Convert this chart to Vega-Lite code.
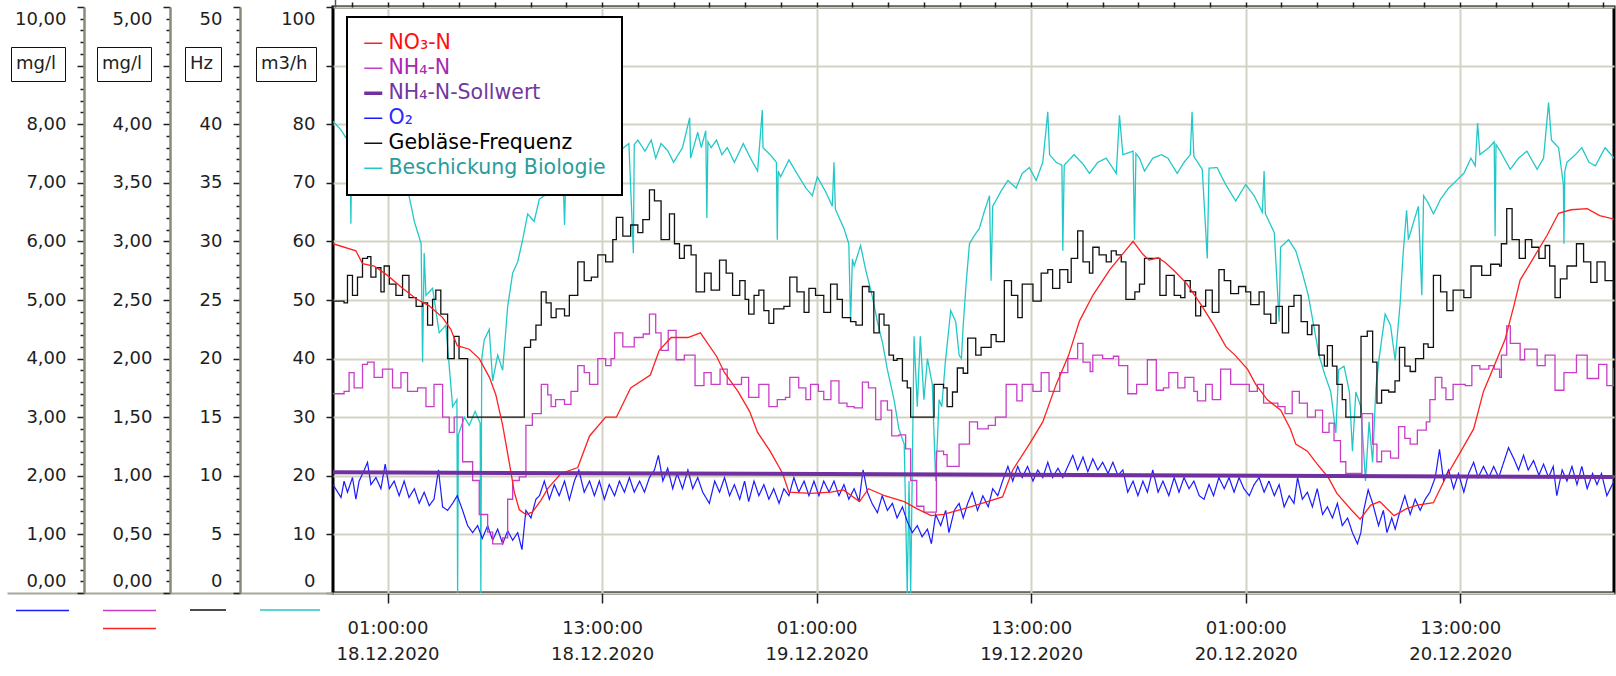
{
"$schema":"https://vega.github.io/schema/vega-lite/v6.json",
"width":1281,"height":586,
"autosize":{"type":"none"},
"padding":{"left":333,"top":7,"right":2,"bottom":83},
"background":"white",
"config":{
 "view":{"stroke":"#000000","strokeWidth":3},
 "font":"DejaVu Sans",
 "axis":{"labelFont":"DejaVu Sans","labelFontSize":18,"labelColor":"#1e1e1e","tickColor":"#1e1e1e","tickWidth":1.5,"domainColor":"#8a8a7a","domainWidth":2.5,"grid":false,"labelOverlap":false},
 "legend":{"labelFont":"DejaVu Sans","labelFontSize":18}
},
"datasets":{
"q":[{"h":-2.05,"y":80.5},{"h":-1.6,"y":79},{"h":-1.33,"y":77.7},{"h":-1.1,"y":77},{"h":-1.05,"y":63},{"h":-1.0,"y":76.5},{"h":-0.5,"y":76},{"h":0.3,"y":75},{"h":1.0,"y":73},{"h":1.6,"y":70.5},{"h":2.2,"y":67.8},{"h":2.5,"y":63.4},{"h":2.88,"y":59.6},{"h":2.96,"y":39.4},{"h":3.05,"y":58},{"h":3.15,"y":50.8},{"h":3.52,"y":52},{"h":3.89,"y":44.4},{"h":4.26,"y":45.7},{"h":4.64,"y":31.8},{"h":4.88,"y":33},{"h":4.92,"y":0},{"h":4.96,"y":27},{"h":5.3,"y":30},{"h":5.57,"y":28.6},{"h":5.9,"y":31},{"h":6.18,"y":29},{"h":6.22,"y":0},{"h":6.27,"y":40},{"h":6.41,"y":43.2},{"h":6.69,"y":45},{"h":6.88,"y":36.2},{"h":7.16,"y":40.6},{"h":7.44,"y":38},{"h":7.72,"y":48.9},{"h":8.0,"y":54.6},{"h":8.28,"y":56.5},{"h":8.56,"y":60.3},{"h":8.84,"y":64.7},{"h":9.2,"y":63.4},{"h":9.49,"y":67.2},{"h":9.77,"y":67.8},{"h":10.3,"y":68.5},{"h":10.85,"y":68},{"h":10.9,"y":62.8},{"h":10.95,"y":68.5},{"h":11.5,"y":70},{"h":12.2,"y":72},{"h":13.0,"y":73.5},{"h":13.8,"y":75},{"h":14.5,"y":76.7},{"h":14.75,"y":58},{"h":14.8,"y":76.5},{"h":15.0,"y":77.3},{"h":15.4,"y":75.4},{"h":15.75,"y":77.3},{"h":16.0,"y":74.2},{"h":16.3,"y":76.7},{"h":16.67,"y":75.5},{"h":17.0,"y":73.5},{"h":17.5,"y":76},{"h":17.9,"y":81.1},{"h":17.95,"y":74.2},{"h":18.35,"y":78.6},{"h":18.55,"y":76},{"h":18.8,"y":78.9},{"h":18.86,"y":64},{"h":18.92,"y":77},{"h":19.1,"y":76},{"h":19.4,"y":77.3},{"h":19.7,"y":74.8},{"h":20.0,"y":76},{"h":20.4,"y":73.5},{"h":20.9,"y":76.7},{"h":21.3,"y":74.2},{"h":21.7,"y":72},{"h":21.96,"y":82.4},{"h":22.0,"y":76},{"h":22.4,"y":74.8},{"h":22.75,"y":73.5},{"h":22.8,"y":60.3},{"h":22.85,"y":72},{"h":22.98,"y":71},{"h":23.45,"y":73.9},{"h":23.9,"y":71.6},{"h":24.4,"y":69.1},{"h":24.76,"y":67.8},{"h":25.04,"y":71},{"h":25.5,"y":68.5},{"h":25.88,"y":66},{"h":25.97,"y":73.5},{"h":26.05,"y":65.5},{"h":26.53,"y":62.2},{"h":26.8,"y":59.6},{"h":26.9,"y":46.3},{"h":27.0,"y":57},{"h":27.1,"y":55.8},{"h":27.46,"y":59.3},{"h":27.74,"y":55.2},{"h":28.1,"y":50.8},{"h":28.4,"y":46.3},{"h":28.7,"y":42.5},{"h":28.96,"y":38.1},{"h":29.33,"y":33},{"h":29.6,"y":28},{"h":29.9,"y":25.4},{"h":30.07,"y":0},{"h":30.17,"y":19.1},{"h":30.26,"y":0},{"h":30.45,"y":43.8},{"h":30.63,"y":31.8},{"h":30.8,"y":43.8},{"h":31.0,"y":33},{"h":31.2,"y":40},{"h":31.47,"y":35.6},{"h":31.66,"y":19.1},{"h":31.85,"y":33},{"h":32.0,"y":31.8},{"h":32.2,"y":39.4},{"h":32.5,"y":48.2},{"h":32.78,"y":46.3},{"h":32.97,"y":40.6},{"h":33.1,"y":40},{"h":33.2,"y":45.7},{"h":33.36,"y":52.7},{"h":33.55,"y":59.6},{"h":33.8,"y":60.9},{"h":34.1,"y":62.2},{"h":34.4,"y":65.3},{"h":34.67,"y":67.8},{"h":34.76,"y":53.3},{"h":34.85,"y":66},{"h":35.3,"y":68.5},{"h":35.7,"y":70.4},{"h":36.16,"y":69.1},{"h":36.5,"y":71.6},{"h":36.9,"y":72.6},{"h":37.28,"y":70.4},{"h":37.65,"y":73.5},{"h":37.93,"y":82.1},{"h":38.03,"y":74.8},{"h":38.4,"y":73.5},{"h":38.72,"y":73},{"h":38.77,"y":58.4},{"h":38.85,"y":73},{"h":39.4,"y":74.8},{"h":39.9,"y":73.2},{"h":40.26,"y":71.6},{"h":40.73,"y":73.5},{"h":41.2,"y":74.2},{"h":41.76,"y":71.6},{"h":41.94,"y":81.5},{"h":42.13,"y":74.8},{"h":42.7,"y":75.4},{"h":42.78,"y":60.3},{"h":42.86,"y":75},{"h":43.06,"y":74.2},{"h":43.34,"y":72},{"h":43.8,"y":74.2},{"h":44.28,"y":74.8},{"h":44.65,"y":74.2},{"h":45.17,"y":71.6},{"h":45.55,"y":73.5},{"h":45.9,"y":74.8},{"h":46.0,"y":82.1},{"h":46.1,"y":74.5},{"h":46.57,"y":72.3},{"h":46.85,"y":57.1},{"h":46.95,"y":72.5},{"h":47.4,"y":72.6},{"h":47.88,"y":69.7},{"h":48.44,"y":66.9},{"h":49.0,"y":69.7},{"h":49.47,"y":67.8},{"h":49.93,"y":65},{"h":50.03,"y":72},{"h":50.1,"y":64.7},{"h":50.6,"y":61.5},{"h":50.87,"y":46.3},{"h":50.95,"y":59},{"h":51.4,"y":60.3},{"h":51.8,"y":58.4},{"h":52.17,"y":54.6},{"h":52.5,"y":50.8},{"h":52.8,"y":45.7},{"h":53.1,"y":40.6},{"h":53.4,"y":37.5},{"h":53.76,"y":34.3},{"h":54.04,"y":27.3},{"h":54.2,"y":38.1},{"h":54.5,"y":38.7},{"h":54.8,"y":34.3},{"h":54.97,"y":24.2},{"h":55.16,"y":34.3},{"h":55.44,"y":31.8},{"h":55.7,"y":19.1},{"h":55.9,"y":29.2},{"h":56.1,"y":22.3},{"h":56.28,"y":34.9},{"h":56.46,"y":40},{"h":56.8,"y":47.6},{"h":57.1,"y":45.7},{"h":57.36,"y":39.7},{"h":57.64,"y":49.5},{"h":57.8,"y":57.7},{"h":58.0,"y":65.3},{"h":58.1,"y":60.3},{"h":58.4,"y":63.4},{"h":58.66,"y":66},{"h":58.85,"y":50.8},{"h":58.95,"y":67.8},{"h":59.2,"y":66.6},{"h":59.5,"y":64.7},{"h":59.9,"y":67.2},{"h":60.35,"y":69.1},{"h":60.8,"y":70.4},{"h":61.2,"y":71.6},{"h":61.6,"y":74.2},{"h":61.84,"y":72.9},{"h":61.97,"y":80.2},{"h":62.1,"y":74.8},{"h":62.6,"y":76},{"h":62.9,"y":77},{"h":62.95,"y":60.9},{"h":63.0,"y":76.5},{"h":63.24,"y":75.4},{"h":63.8,"y":72.3},{"h":64.26,"y":74.2},{"h":64.73,"y":75.4},{"h":65.3,"y":72.3},{"h":65.66,"y":74.2},{"h":65.94,"y":83.7},{"h":66.1,"y":77.3},{"h":66.5,"y":76},{"h":66.77,"y":69.7},{"h":66.8,"y":59.6},{"h":66.85,"y":72},{"h":66.97,"y":73.5},{"h":67.44,"y":74.8},{"h":67.8,"y":76},{"h":68.2,"y":73.5},{"h":68.56,"y":72.9},{"h":69.1,"y":76},{"h":69.6,"y":74.2}],
"hz":[{"h":-2.05,"y":24.9},{"h":-1.43,"y":24.75},{"h":-1.24,"y":27.1},{"h":-0.96,"y":25.4},{"h":-0.68,"y":26.95},{"h":-0.4,"y":28.55},{"h":-0.12,"y":28.7},{"h":0.07,"y":26.95},{"h":0.35,"y":27.75},{"h":0.63,"y":25.7},{"h":0.81,"y":27.9},{"h":1.1,"y":26.35},{"h":1.47,"y":25.4},{"h":1.84,"y":27.1},{"h":2.2,"y":25.2},{"h":2.6,"y":24.45},{"h":2.96,"y":24.75},{"h":3.24,"y":22.85},{"h":3.52,"y":25.05},{"h":3.7,"y":25.85},{"h":3.98,"y":23.8},{"h":4.36,"y":20},{"h":4.73,"y":21.9},{"h":5.0,"y":20},{"h":5.48,"y":15},{"h":8.37,"y":15},{"h":8.65,"y":20.95},{"h":9.0,"y":21.6},{"h":9.3,"y":22.85},{"h":9.6,"y":25.7},{"h":9.87,"y":24.75},{"h":10.15,"y":23.5},{"h":10.43,"y":24.25},{"h":10.9,"y":23.65},{"h":11.17,"y":25.4},{"h":11.64,"y":28.25},{"h":12.0,"y":26.65},{"h":12.4,"y":26.95},{"h":12.76,"y":28.85},{"h":13.2,"y":28.25},{"h":13.6,"y":30.15},{"h":13.8,"y":32.05},{"h":14.16,"y":30.45},{"h":14.6,"y":31.4},{"h":15.0,"y":30.75},{"h":15.28,"y":31.85},{"h":15.65,"y":34.4},{"h":15.93,"y":33.45},{"h":16.3,"y":30.15},{"h":16.77,"y":32.35},{"h":17.05,"y":29.8},{"h":17.33,"y":28.55},{"h":17.6,"y":29.65},{"h":17.98,"y":28.85},{"h":18.26,"y":25.7},{"h":18.73,"y":27.3},{"h":19.1,"y":25.85},{"h":19.57,"y":28.4},{"h":19.94,"y":27.3},{"h":20.3,"y":25.4},{"h":20.7,"y":26.65},{"h":21.0,"y":25.05},{"h":21.2,"y":23.8},{"h":21.5,"y":25.4},{"h":21.77,"y":25.85},{"h":22.05,"y":24.1},{"h":22.33,"y":23},{"h":22.6,"y":24.25},{"h":23.17,"y":24.45},{"h":23.5,"y":26.95},{"h":23.9,"y":25.7},{"h":24.3,"y":23.95},{"h":24.57,"y":26},{"h":24.94,"y":25.4},{"h":25.4,"y":23.95},{"h":25.78,"y":26.35},{"h":26.15,"y":25.05},{"h":26.44,"y":23.5},{"h":26.9,"y":23.15},{"h":27.2,"y":22.85},{"h":27.56,"y":26.15},{"h":27.93,"y":25.7},{"h":28.2,"y":22.2},{"h":28.5,"y":23.8},{"h":28.77,"y":22.85},{"h":29.05,"y":20.3},{"h":29.3,"y":19.85},{"h":29.5,"y":20},{"h":29.8,"y":18.1},{"h":30.07,"y":17.5},{"h":30.26,"y":15},{"h":31.57,"y":17.8},{"h":32.1,"y":17.5},{"h":32.3,"y":15.9},{"h":32.6,"y":17.15},{"h":32.87,"y":19.2},{"h":33.2,"y":18.75},{"h":33.45,"y":21.75},{"h":33.9,"y":20.3},{"h":34.2,"y":20.95},{"h":34.76,"y":22.05},{"h":35.04,"y":21.45},{"h":35.5,"y":26.65},{"h":35.9,"y":25.4},{"h":36.25,"y":23.5},{"h":36.5,"y":26.35},{"h":37.1,"y":24.9},{"h":37.56,"y":27.3},{"h":37.93,"y":27.6},{"h":38.2,"y":26},{"h":38.6,"y":27.6},{"h":39.05,"y":26.5},{"h":39.24,"y":28.55},{"h":39.6,"y":30.9},{"h":39.9,"y":28.25},{"h":40.26,"y":27.3},{"h":40.45,"y":29.5},{"h":40.8,"y":28.85},{"h":41.2,"y":28.25},{"h":41.48,"y":29.2},{"h":41.76,"y":28.85},{"h":42.04,"y":28.25},{"h":42.3,"y":25.05},{"h":42.8,"y":25.7},{"h":43.06,"y":26.35},{"h":43.34,"y":28.55},{"h":44.2,"y":25.4},{"h":44.55,"y":27.1},{"h":45.0,"y":25.4},{"h":45.36,"y":25.2},{"h":45.6,"y":26.65},{"h":45.9,"y":25.7},{"h":46.2,"y":23.65},{"h":46.48,"y":24.45},{"h":46.76,"y":25.85},{"h":47.13,"y":23.95},{"h":47.5,"y":27.6},{"h":47.8,"y":26.65},{"h":48.16,"y":25.55},{"h":48.6,"y":26.15},{"h":49.0,"y":25.7},{"h":49.28,"y":24.6},{"h":49.75,"y":25.7},{"h":50.03,"y":23.8},{"h":50.4,"y":23},{"h":50.7,"y":24.45},{"h":51.05,"y":22.2},{"h":51.4,"y":24.45},{"h":51.7,"y":25.4},{"h":52.1,"y":23.15},{"h":52.45,"y":22.05},{"h":52.7,"y":22.85},{"h":53.1,"y":20.3},{"h":53.4,"y":19.35},{"h":53.57,"y":21.1},{"h":53.85,"y":19.35},{"h":54.1,"y":17.8},{"h":54.4,"y":16.5},{"h":54.6,"y":15},{"h":55.45,"y":21.9},{"h":55.8,"y":22.35},{"h":56.1,"y":19.7},{"h":56.34,"y":16.2},{"h":56.6,"y":17.3},{"h":57.0,"y":17.15},{"h":57.35,"y":18.1},{"h":57.6,"y":20.95},{"h":57.9,"y":19.35},{"h":58.2,"y":18.9},{"h":58.5,"y":20},{"h":58.95,"y":21.25},{"h":59.2,"y":20.95},{"h":59.5,"y":27.1},{"h":59.9,"y":25.7},{"h":60.25,"y":24.1},{"h":60.6,"y":25.85},{"h":61.2,"y":25.2},{"h":61.6,"y":27.9},{"h":62.2,"y":27.1},{"h":62.7,"y":28.05},{"h":63.2,"y":27.9},{"h":63.3,"y":29.8},{"h":63.6,"y":32.8},{"h":63.9,"y":30.15},{"h":64.3,"y":28.55},{"h":64.64,"y":30.15},{"h":65.0,"y":29.5},{"h":65.4,"y":28.55},{"h":65.75,"y":29.65},{"h":66.0,"y":27.9},{"h":66.3,"y":25.2},{"h":66.6,"y":26.8},{"h":66.97,"y":27.9},{"h":67.5,"y":29.8},{"h":67.9,"y":28.25},{"h":68.3,"y":26.5},{"h":68.65,"y":28.25},{"h":69.1,"y":26.65},{"h":69.6,"y":25.55}],
"o2":[{"h":-2.05,"y":1.85},{"h":-1.6,"y":1.63},{"h":-1.43,"y":1.91},{"h":-1.24,"y":1.72},{"h":-0.96,"y":1.97},{"h":-0.77,"y":1.6},{"h":-0.59,"y":1.91},{"h":-0.3,"y":2.1},{"h":-0.12,"y":2.23},{"h":0.07,"y":1.85},{"h":0.35,"y":1.97},{"h":0.63,"y":1.78},{"h":0.87,"y":2.2},{"h":1.1,"y":1.78},{"h":1.37,"y":1.91},{"h":1.65,"y":1.66},{"h":1.93,"y":1.91},{"h":2.2,"y":1.63},{"h":2.5,"y":1.78},{"h":2.77,"y":1.53},{"h":3.05,"y":1.72},{"h":3.33,"y":1.49},{"h":3.6,"y":1.6},{"h":3.85,"y":2.1},{"h":4.08,"y":1.47},{"h":4.36,"y":1.41},{"h":4.64,"y":1.53},{"h":4.9,"y":1.66},{"h":5.2,"y":1.41},{"h":5.48,"y":1.15},{"h":5.76,"y":1.03},{"h":6.04,"y":1.15},{"h":6.3,"y":0.93},{"h":6.6,"y":1.15},{"h":6.88,"y":0.9},{"h":7.16,"y":1.09},{"h":7.44,"y":0.84},{"h":7.72,"y":1.06},{"h":8.0,"y":0.9},{"h":8.28,"y":1.03},{"h":8.52,"y":0.74},{"h":8.74,"y":1.41},{"h":9.02,"y":1.28},{"h":9.3,"y":1.6},{"h":9.5,"y":1.66},{"h":9.77,"y":1.91},{"h":10.05,"y":1.6},{"h":10.33,"y":1.85},{"h":10.6,"y":1.66},{"h":10.9,"y":1.91},{"h":11.17,"y":1.59},{"h":11.45,"y":1.91},{"h":11.7,"y":2.1},{"h":12.0,"y":1.72},{"h":12.3,"y":1.91},{"h":12.57,"y":1.66},{"h":12.85,"y":1.91},{"h":13.13,"y":1.6},{"h":13.4,"y":1.85},{"h":13.7,"y":1.66},{"h":13.97,"y":1.91},{"h":14.25,"y":1.72},{"h":14.53,"y":1.97},{"h":14.8,"y":1.72},{"h":15.1,"y":1.91},{"h":15.37,"y":1.72},{"h":15.65,"y":1.97},{"h":15.93,"y":2.1},{"h":16.15,"y":2.35},{"h":16.4,"y":1.91},{"h":16.67,"y":2.13},{"h":16.95,"y":1.78},{"h":17.2,"y":2.04},{"h":17.5,"y":1.78},{"h":17.8,"y":2.1},{"h":18.07,"y":1.78},{"h":18.35,"y":1.97},{"h":18.63,"y":1.72},{"h":19.0,"y":1.53},{"h":19.3,"y":1.91},{"h":19.57,"y":1.72},{"h":19.85,"y":1.97},{"h":20.13,"y":1.66},{"h":20.4,"y":1.85},{"h":20.7,"y":1.6},{"h":20.97,"y":1.91},{"h":21.2,"y":1.56},{"h":21.5,"y":1.91},{"h":21.77,"y":1.66},{"h":22.05,"y":1.85},{"h":22.33,"y":1.6},{"h":22.6,"y":1.78},{"h":22.9,"y":1.53},{"h":23.17,"y":1.78},{"h":23.45,"y":1.66},{"h":23.73,"y":1.97},{"h":24.0,"y":1.72},{"h":24.3,"y":1.91},{"h":24.57,"y":1.66},{"h":24.85,"y":1.91},{"h":25.13,"y":1.66},{"h":25.4,"y":1.91},{"h":25.7,"y":1.72},{"h":25.97,"y":1.91},{"h":26.25,"y":1.66},{"h":26.53,"y":1.85},{"h":26.8,"y":1.6},{"h":27.1,"y":1.78},{"h":27.37,"y":1.56},{"h":27.6,"y":2.1},{"h":27.84,"y":1.72},{"h":28.1,"y":1.53},{"h":28.4,"y":1.37},{"h":28.67,"y":1.66},{"h":28.96,"y":1.41},{"h":29.24,"y":1.53},{"h":29.5,"y":1.28},{"h":29.8,"y":1.47},{"h":30.07,"y":1.22},{"h":30.35,"y":1.03},{"h":30.63,"y":1.15},{"h":30.9,"y":0.96},{"h":31.2,"y":1.09},{"h":31.42,"y":0.84},{"h":31.66,"y":1.34},{"h":31.94,"y":1.15},{"h":32.22,"y":1.41},{"h":32.4,"y":1.03},{"h":32.7,"y":1.41},{"h":32.97,"y":1.53},{"h":33.2,"y":1.28},{"h":33.45,"y":1.53},{"h":33.7,"y":1.72},{"h":34.0,"y":1.41},{"h":34.3,"y":1.66},{"h":34.6,"y":1.47},{"h":34.85,"y":1.78},{"h":35.13,"y":1.66},{"h":35.4,"y":1.91},{"h":35.7,"y":2.16},{"h":35.97,"y":1.91},{"h":36.25,"y":2.16},{"h":36.5,"y":1.97},{"h":36.8,"y":2.16},{"h":37.1,"y":1.91},{"h":37.37,"y":2.1},{"h":37.65,"y":1.97},{"h":37.93,"y":2.23},{"h":38.2,"y":1.97},{"h":38.5,"y":2.13},{"h":38.77,"y":1.97},{"h":39.05,"y":2.16},{"h":39.33,"y":2.35},{"h":39.6,"y":2.1},{"h":39.9,"y":2.32},{"h":40.17,"y":2.07},{"h":40.45,"y":2.29},{"h":40.73,"y":2.1},{"h":41.0,"y":2.23},{"h":41.3,"y":2.04},{"h":41.57,"y":2.23},{"h":41.85,"y":2.01},{"h":42.13,"y":2.1},{"h":42.4,"y":1.72},{"h":42.7,"y":1.91},{"h":42.97,"y":1.66},{"h":43.25,"y":1.91},{"h":43.5,"y":1.72},{"h":43.8,"y":2.1},{"h":44.1,"y":1.72},{"h":44.37,"y":1.91},{"h":44.7,"y":1.66},{"h":45.0,"y":1.97},{"h":45.27,"y":1.72},{"h":45.55,"y":1.97},{"h":45.83,"y":1.78},{"h":46.1,"y":1.91},{"h":46.4,"y":1.66},{"h":46.67,"y":1.6},{"h":46.95,"y":1.85},{"h":47.2,"y":1.66},{"h":47.5,"y":1.97},{"h":47.8,"y":1.78},{"h":48.07,"y":1.97},{"h":48.35,"y":1.72},{"h":48.63,"y":1.97},{"h":48.9,"y":1.78},{"h":49.2,"y":1.66},{"h":49.47,"y":1.85},{"h":49.75,"y":1.97},{"h":50.03,"y":1.72},{"h":50.3,"y":1.91},{"h":50.6,"y":1.66},{"h":50.87,"y":1.85},{"h":51.15,"y":1.47},{"h":51.43,"y":1.66},{"h":51.7,"y":1.53},{"h":51.9,"y":1.97},{"h":52.17,"y":1.6},{"h":52.45,"y":1.72},{"h":52.73,"y":1.47},{"h":53.0,"y":1.78},{"h":53.3,"y":1.34},{"h":53.57,"y":1.47},{"h":53.85,"y":1.28},{"h":54.13,"y":1.53},{"h":54.4,"y":1.15},{"h":54.7,"y":1.28},{"h":54.97,"y":1.03},{"h":55.25,"y":0.84},{"h":55.44,"y":1.03},{"h":55.6,"y":1.41},{"h":55.85,"y":1.76},{"h":56.1,"y":1.53},{"h":56.43,"y":1.15},{"h":56.7,"y":1.41},{"h":56.9,"y":1.03},{"h":57.17,"y":1.28},{"h":57.36,"y":1.09},{"h":57.64,"y":1.41},{"h":57.9,"y":1.66},{"h":58.2,"y":1.34},{"h":58.48,"y":1.6},{"h":58.76,"y":1.41},{"h":59.04,"y":1.6},{"h":59.3,"y":1.72},{"h":59.6,"y":1.97},{"h":59.84,"y":2.45},{"h":60.07,"y":1.91},{"h":60.35,"y":2.1},{"h":60.63,"y":1.78},{"h":60.9,"y":2.04},{"h":61.2,"y":1.72},{"h":61.47,"y":2.04},{"h":61.75,"y":2.23},{"h":62.0,"y":1.97},{"h":62.3,"y":2.16},{"h":62.6,"y":1.97},{"h":62.87,"y":2.16},{"h":63.15,"y":1.97},{"h":63.43,"y":2.23},{"h":63.7,"y":2.48},{"h":64.0,"y":2.29},{"h":64.26,"y":2.1},{"h":64.54,"y":2.35},{"h":64.8,"y":2.1},{"h":65.1,"y":2.26},{"h":65.4,"y":2.01},{"h":65.66,"y":2.2},{"h":65.94,"y":1.97},{"h":66.2,"y":2.16},{"h":66.4,"y":1.66},{"h":66.7,"y":2.1},{"h":66.97,"y":1.91},{"h":67.25,"y":2.16},{"h":67.53,"y":1.85},{"h":67.8,"y":2.16},{"h":68.1,"y":1.78},{"h":68.4,"y":2.04},{"h":68.65,"y":1.85},{"h":68.9,"y":2.04},{"h":69.2,"y":1.66},{"h":69.6,"y":1.91}],
"nh4":[{"h":-2.05,"y":1.7},{"h":-1.43,"y":1.72},{"h":-1.15,"y":1.88},{"h":-0.87,"y":1.75},{"h":-0.4,"y":1.95},{"h":-0.12,"y":1.97},{"h":0.25,"y":1.84},{"h":0.72,"y":1.91},{"h":1.28,"y":1.75},{"h":1.75,"y":1.88},{"h":2.12,"y":1.72},{"h":2.68,"y":1.75},{"h":3.15,"y":1.59},{"h":3.6,"y":1.78},{"h":4.08,"y":1.5},{"h":4.45,"y":1.37},{"h":4.73,"y":1.5},{"h":5.2,"y":1.12},{"h":5.76,"y":0.96},{"h":6.13,"y":0.67},{"h":6.6,"y":0.52},{"h":6.88,"y":0.42},{"h":7.44,"y":0.47},{"h":7.72,"y":0.8},{"h":8.0,"y":0.96},{"h":8.37,"y":0.99},{"h":8.74,"y":1.43},{"h":9.1,"y":1.53},{"h":9.6,"y":1.78},{"h":9.96,"y":1.69},{"h":10.15,"y":1.59},{"h":10.4,"y":1.65},{"h":10.9,"y":1.61},{"h":11.26,"y":1.72},{"h":11.64,"y":1.94},{"h":12.0,"y":1.88},{"h":12.3,"y":1.78},{"h":12.76,"y":2.0},{"h":13.2,"y":1.94},{"h":13.5,"y":2.0},{"h":13.7,"y":2.22},{"h":14.16,"y":2.1},{"h":14.8,"y":2.18},{"h":15.3,"y":2.21},{"h":15.65,"y":2.38},{"h":16.0,"y":2.22},{"h":16.3,"y":2.07},{"h":16.7,"y":2.24},{"h":17.14,"y":1.99},{"h":17.6,"y":2.03},{"h":18.2,"y":1.77},{"h":18.7,"y":1.88},{"h":19.1,"y":1.78},{"h":19.6,"y":1.91},{"h":20.0,"y":1.78},{"h":20.8,"y":1.84},{"h":21.2,"y":1.67},{"h":21.77,"y":1.78},{"h":22.33,"y":1.59},{"h":22.8,"y":1.65},{"h":23.26,"y":1.67},{"h":23.5,"y":1.84},{"h":24.0,"y":1.75},{"h":24.4,"y":1.65},{"h":24.66,"y":1.78},{"h":25.1,"y":1.72},{"h":25.4,"y":1.65},{"h":25.8,"y":1.81},{"h":26.25,"y":1.62},{"h":26.7,"y":1.59},{"h":27.1,"y":1.58},{"h":27.56,"y":1.8},{"h":27.9,"y":1.75},{"h":28.3,"y":1.48},{"h":28.6,"y":1.64},{"h":28.96,"y":1.56},{"h":29.2,"y":1.34},{"h":29.6,"y":1.35},{"h":29.98,"y":1.23},{"h":30.26,"y":0.96},{"h":30.6,"y":0.74},{"h":31.0,"y":0.69},{"h":31.65,"y":0.69},{"h":31.7,"y":1.21},{"h":32.1,"y":1.18},{"h":32.3,"y":1.08},{"h":32.97,"y":1.27},{"h":33.55,"y":1.46},{"h":34.0,"y":1.4},{"h":34.6,"y":1.43},{"h":35.0,"y":1.5},{"h":35.6,"y":1.78},{"h":36.2,"y":1.64},{"h":36.5,"y":1.78},{"h":37.1,"y":1.72},{"h":37.56,"y":1.88},{"h":38.0,"y":1.72},{"h":38.6,"y":1.88},{"h":39.05,"y":2.0},{"h":39.6,"y":2.13},{"h":39.9,"y":1.97},{"h":40.3,"y":1.89},{"h":40.45,"y":2.03},{"h":41.0,"y":2.0},{"h":41.6,"y":2.02},{"h":41.9,"y":1.94},{"h":42.4,"y":1.7},{"h":42.9,"y":1.78},{"h":43.5,"y":1.99},{"h":44.0,"y":1.73},{"h":44.4,"y":1.75},{"h":44.7,"y":1.88},{"h":45.2,"y":1.75},{"h":45.6,"y":1.84},{"h":46.1,"y":1.72},{"h":46.3,"y":1.64},{"h":46.76,"y":1.78},{"h":47.13,"y":1.65},{"h":47.6,"y":1.91},{"h":48.16,"y":1.78},{"h":49.2,"y":1.72},{"h":49.65,"y":1.78},{"h":50.0,"y":1.62},{"h":50.8,"y":1.59},{"h":51.2,"y":1.53},{"h":51.6,"y":1.72},{"h":52.0,"y":1.62},{"h":52.45,"y":1.5},{"h":52.9,"y":1.56},{"h":53.3,"y":1.37},{"h":53.66,"y":1.45},{"h":53.94,"y":1.3},{"h":54.3,"y":1.12},{"h":54.6,"y":1.02},{"h":55.5,"y":1.53},{"h":56.1,"y":1.27},{"h":56.34,"y":1.12},{"h":56.6,"y":1.21},{"h":57.1,"y":1.15},{"h":57.55,"y":1.42},{"h":57.9,"y":1.32},{"h":58.2,"y":1.27},{"h":58.6,"y":1.39},{"h":59.1,"y":1.46},{"h":59.3,"y":1.65},{"h":59.6,"y":1.84},{"h":59.97,"y":1.75},{"h":60.2,"y":1.65},{"h":60.6,"y":1.78},{"h":61.28,"y":1.77},{"h":61.65,"y":1.94},{"h":62.1,"y":1.91},{"h":62.6,"y":1.94},{"h":62.9,"y":1.91},{"h":63.2,"y":1.84},{"h":63.3,"y":2.03},{"h":63.6,"y":2.28},{"h":63.8,"y":2.13},{"h":64.35,"y":1.99},{"h":64.6,"y":2.08},{"h":65.3,"y":1.94},{"h":65.75,"y":2.03},{"h":66.3,"y":1.73},{"h":66.8,"y":1.88},{"h":67.5,"y":2.03},{"h":68.1,"y":1.83},{"h":68.74,"y":1.95},{"h":69.2,"y":1.77},{"h":69.6,"y":1.92}],
"no3":[{"h":-2.05,"y":2.98},{"h":-0.77,"y":2.92},{"h":-0.4,"y":2.81},{"h":0.25,"y":2.79},{"h":1.0,"y":2.71},{"h":1.84,"y":2.6},{"h":2.6,"y":2.51},{"h":3.33,"y":2.45},{"h":4.08,"y":2.35},{"h":4.54,"y":2.25},{"h":4.9,"y":2.11},{"h":5.57,"y":2.08},{"h":6.13,"y":2.0},{"h":6.7,"y":1.84},{"h":7.06,"y":1.69},{"h":7.44,"y":1.43},{"h":7.8,"y":1.12},{"h":8.09,"y":0.86},{"h":8.37,"y":0.71},{"h":8.74,"y":0.67},{"h":9.1,"y":0.69},{"h":9.58,"y":0.79},{"h":9.96,"y":0.89},{"h":10.7,"y":1.02},{"h":11.64,"y":1.07},{"h":12.3,"y":1.34},{"h":13.2,"y":1.5},{"h":13.8,"y":1.5},{"h":14.6,"y":1.75},{"h":15.7,"y":1.86},{"h":16.2,"y":2.07},{"h":16.86,"y":2.18},{"h":17.8,"y":2.18},{"h":18.5,"y":2.22},{"h":19.4,"y":2.02},{"h":19.85,"y":1.88},{"h":20.6,"y":1.72},{"h":21.25,"y":1.55},{"h":21.7,"y":1.37},{"h":22.4,"y":1.21},{"h":23.1,"y":1.02},{"h":23.45,"y":0.86},{"h":24.66,"y":0.85},{"h":25.8,"y":0.86},{"h":26.5,"y":0.88},{"h":27.4,"y":0.78},{"h":27.9,"y":0.89},{"h":28.8,"y":0.83},{"h":29.9,"y":0.78},{"h":30.6,"y":0.72},{"h":31.4,"y":0.66},{"h":32.1,"y":0.67},{"h":33.0,"y":0.71},{"h":33.7,"y":0.74},{"h":35.4,"y":0.82},{"h":35.97,"y":1.05},{"h":36.9,"y":1.27},{"h":37.65,"y":1.46},{"h":38.4,"y":1.78},{"h":39.1,"y":2.03},{"h":39.7,"y":2.32},{"h":40.45,"y":2.54},{"h":41.4,"y":2.76},{"h":42.1,"y":2.89},{"h":42.7,"y":3.0},{"h":43.25,"y":2.89},{"h":43.6,"y":2.84},{"h":44.1,"y":2.86},{"h":44.5,"y":2.82},{"h":45.0,"y":2.75},{"h":45.7,"y":2.64},{"h":46.5,"y":2.46},{"h":47.2,"y":2.29},{"h":47.9,"y":2.1},{"h":48.4,"y":2.03},{"h":49.1,"y":1.91},{"h":49.56,"y":1.78},{"h":50.2,"y":1.65},{"h":50.96,"y":1.56},{"h":51.5,"y":1.4},{"h":51.8,"y":1.27},{"h":52.45,"y":1.21},{"h":53.0,"y":1.1},{"h":53.6,"y":0.99},{"h":54.1,"y":0.85},{"h":54.9,"y":0.71},{"h":55.4,"y":0.63},{"h":56.0,"y":0.75},{"h":56.5,"y":0.78},{"h":57.3,"y":0.66},{"h":58.0,"y":0.72},{"h":58.6,"y":0.75},{"h":59.5,"y":0.77},{"h":60.2,"y":0.99},{"h":61.0,"y":1.2},{"h":61.75,"y":1.4},{"h":62.3,"y":1.72},{"h":62.9,"y":1.94},{"h":63.5,"y":2.16},{"h":64.0,"y":2.45},{"h":64.35,"y":2.67},{"h":65.1,"y":2.86},{"h":65.85,"y":3.05},{"h":66.5,"y":3.24},{"h":67.2,"y":3.27},{"h":68.1,"y":3.28},{"h":68.8,"y":3.22},{"h":69.6,"y":3.19}],
"soll":[{"h":-2.05,"y":1.03},{"h":69.6,"y":0.99}]
},
"resolve":{"scale":{"y":"independent","strokeDash":"independent","opacity":"independent"},"axis":{"x":"independent","y":"independent"},"legend":{"strokeDash":"independent","opacity":"independent"}},
"layer":[
{
 "data":{"name":"q"},
 "mark":{"type":"line","strokeWidth":1.3,"clip":true},
 "encoding":{
  "x":{"field":"h","type":"quantitative","scale":{"domain":[-2.05,69.6],"nice":false,"zero":false},
   "axis":{"values":[1,13,25,37,49,61],"labelExpr":"[(datum.value % 24 < 10 ? '0' : '') + (datum.value % 24) + ':00:00', (18 + floor(datum.value / 24)) + '.12.2020']","tickSize":10,"tickWidth":1.5,"domain":false,"grid":true,"gridColor":"#d4d2c4","gridWidth":2,"labelPadding":16,"labelLineHeight":26,"labelFontSize":18,"labelFlush":false,"labelOverlap":false,"labelBaseline":"top","title":null}},
  "y":{"field":"y","type":"quantitative","scale":{"domain":[0,100],"nice":false},
   "axis":{"orient":"left","offset":0,"values":[0,10,20,30,40,50,60,70,80,90,100],"labelExpr":"datum.value == 90 ? '' : format(datum.value, 'd')","tickSize":7,"domain":false,"grid":true,"gridColor":"#d4d2c4","gridWidth":2,"labelPadding":11,"labelFlush":true,"labelFlushOffset":-3,"title":null}},
  "color":{"datum":"Beschickung Biologie","type":"nominal",
   "scale":{"domain":["NO₃-N","NH₄-N","NH₄-N-Sollwert","O₂","Gebläse-Frequenz","Beschickung Biologie"],"range":["#ff2020","#c83cc8","#7030a0","#1a1aff","#111111","#22c8c8"]},
   "legend":{"orient":"none","legendX":14,"legendY":10,"title":null,"symbolType":"stroke","symbolSize":324,"symbolStrokeWidth":1.5,"labelFont":"DejaVu Sans","labelFontSize":20.5,"labelOffset":5,"rowPadding":4,"padding":16,"strokeColor":"#000000","fillColor":"#ffffff","labelLimit":400,
    "encode":{"labels":{"update":{"fill":{"signal":"datum.value == 'Beschickung Biologie' ? '#2a9c9c' : datum.value == 'NH₄-N' ? '#a828b0' : datum.value == 'NH₄-N-Sollwert' ? '#7038a0' : datum.value == 'O₂' ? '#2a2aff' : datum.value == 'NO₃-N' ? '#ff1010' : '#000000'"}}},
     "symbols":{"update":{"strokeWidth":{"signal":"datum.value == 'NH₄-N-Sollwert' ? 3.5 : 1.5"},"stroke":{"signal":"datum.value == 'Gebläse-Frequenz' ? '#6a6a6a' : datum.value == 'Beschickung Biologie' ? '#3aa8a8' : datum.value == 'NH₄-N' ? '#b040b8' : datum.value == 'O₂' ? '#3a3aff' : datum.value == 'NO₃-N' ? '#ff3030' : '#7030a0'"}}},
     "legend":{"update":{"strokeWidth":{"value":2}}}}}},
  "strokeDash":{"datum":"m3/h","type":"nominal","scale":{"range":[[1,0]]},
   "legend":{"orient":"none","legendX":-77,"legendY":40,"title":null,"symbolSize":0,"symbolOpacity":0,"labelOffset":-21,"padding":8,"strokeColor":"#111111","fillColor":"#ffffff","labelFontSize":18,"labelColor":"#222222","labelExpr":"'\u2009' + datum.label + '\u2009'","encode":{"legend":{"update":{"strokeWidth":{"value":2}}}}}},
  "opacity":{"datum":"Beschickung","type":"ordinal","scale":{"range":[1,1]},
   "legend":{"orient":"none","legendX":-74,"legendY":572,"title":null,"symbolType":"stroke","symbolSize":3600,"labelExpr":"''","labelOffset":0,"padding":0,"encode":{"symbols":{"update":{"stroke":{"value":"#22c8c8"},"strokeWidth":{"value":2},"opacity":{"value":1}}}}}}
 }
},
{
 "data":{"name":"hz"},
 "mark":{"type":"line","strokeWidth":1.3,"interpolate":"step-after","clip":true},
 "encoding":{
  "x":{"field":"h","type":"quantitative","scale":{"domain":[-2.05,69.6],"nice":false,"zero":false},
   "axis":{"values":[-1,1,3,5,7,9,11,13,15,17,19,21,23,25,27,29,31,33,35,37,39,41,43,45,47,49,51,53,55,57,59,61,63,65,67,69],"tickSize":5,"tickWidth":1.5,"labels":false,"domain":false,"grid":false,"title":null}},
  "y":{"field":"y","type":"quantitative","scale":{"domain":[0,50],"nice":false},
   "axis":{"orient":"left","offset":93,"zindex":1,"values":[0,1,2,3,4,5,6,7,8,9,10,11,12,13,14,15,16,17,18,19,20,21,22,23,24,25,26,27,28,29,30,31,32,33,34,35,36,37,38,39,40,41,42,43,44,45,46,47,48,49,50],"labelExpr":"datum.value % 5 == 0 && datum.value != 45 ? format(datum.value, 'd') : ''","tickSize":{"condition":{"test":"datum.value % 5 == 0","value":7},"value":4},"domain":true,"labelPadding":11,"labelFlush":true,"labelFlushOffset":-3,"title":null}},
  "color":{"datum":"Gebläse-Frequenz","type":"nominal","scale":{"domain":["NO₃-N","NH₄-N","NH₄-N-Sollwert","O₂","Gebläse-Frequenz","Beschickung Biologie"],"range":["#ff2020","#c83cc8","#7030a0","#1a1aff","#111111","#22c8c8"]}},
  "strokeDash":{"datum":"Hz","type":"nominal","scale":{"range":[[1,0]]},
   "legend":{"orient":"none","legendX":-148,"legendY":40,"title":null,"symbolSize":0,"symbolOpacity":0,"labelOffset":-21,"padding":8,"strokeColor":"#111111","fillColor":"#ffffff","labelFontSize":18,"labelColor":"#222222","labelExpr":"'\u2009' + datum.label + '\u2009'","encode":{"legend":{"update":{"strokeWidth":{"value":2}}}}}},
  "opacity":{"datum":"Gebläse","type":"ordinal","scale":{"range":[1,1]},
   "legend":{"orient":"none","legendX":-144,"legendY":584,"title":null,"symbolType":"stroke","symbolSize":1296,"labelExpr":"''","labelOffset":0,"padding":0,"encode":{"symbols":{"update":{"stroke":{"value":"#111111"},"strokeWidth":{"value":2},"opacity":{"value":1}}}}}}
 }
},
{
 "data":{"name":"o2"},
 "mark":{"type":"line","strokeWidth":1.2,"clip":true},
 "encoding":{
  "x":{"field":"h","type":"quantitative","scale":{"domain":[-2.05,69.6],"nice":false,"zero":false},"axis":null},
  "y":{"field":"y","type":"quantitative","scale":{"domain":[0,10],"nice":false},
   "axis":{"orient":"left","offset":249,"zindex":1,"values":[0,0.2,0.4,0.6,0.8,1,1.2,1.4,1.6,1.8,2,2.2,2.4,2.6,2.8,3,3.2,3.4,3.6,3.8,4,4.2,4.4,4.6,4.8,5,5.2,5.4,5.6,5.8,6,6.2,6.4,6.6,6.8,7,7.2,7.4,7.6,7.8,8,8.2,8.4,8.6,8.8,9,9.2,9.4,9.6,9.8,10],"labelExpr":"abs(datum.value - round(datum.value)) < 0.01 && round(datum.value) != 9 ? replace(format(datum.value, '.2f'), '.', ',') : ''","tickSize":{"condition":{"test":"abs(datum.value - round(datum.value)) < 0.01","value":7},"value":4},"domain":true,"labelPadding":11,"labelFlush":true,"labelFlushOffset":-3,"title":null}},
  "color":{"datum":"O₂","type":"nominal","scale":{"domain":["NO₃-N","NH₄-N","NH₄-N-Sollwert","O₂","Gebläse-Frequenz","Beschickung Biologie"],"range":["#ff2020","#c83cc8","#7030a0","#1a1aff","#111111","#22c8c8"]}},
  "strokeDash":{"datum":"mg/l","type":"nominal","scale":{"range":[[1,0]]},
   "legend":{"orient":"none","legendX":-322,"legendY":40,"title":null,"symbolSize":0,"symbolOpacity":0,"labelOffset":-21,"padding":8,"strokeColor":"#111111","fillColor":"#ffffff","labelFontSize":18,"labelColor":"#222222","labelExpr":"'\u2009' + datum.label + '\u2009'","encode":{"legend":{"update":{"strokeWidth":{"value":2}}}}}},
  "opacity":{"datum":"O₂","type":"ordinal","scale":{"range":[1,1]},
   "legend":{"orient":"none","legendX":-318,"legendY":576,"title":null,"symbolType":"stroke","symbolSize":2809,"labelExpr":"''","labelOffset":0,"padding":0,"encode":{"symbols":{"update":{"stroke":{"value":"#1a1aff"},"strokeWidth":{"value":2},"opacity":{"value":1}}}}}}
 }
},
{
 "data":{"name":"nh4"},
 "mark":{"type":"line","strokeWidth":1.3,"interpolate":"step-after","clip":true},
 "encoding":{
  "x":{"field":"h","type":"quantitative","scale":{"domain":[-2.05,69.6],"nice":false,"zero":false},"axis":null},
  "y":{"field":"y","type":"quantitative","scale":{"domain":[0,5],"nice":false},
   "axis":{"orient":"left","offset":163,"zindex":1,"values":[0,0.1,0.2,0.3,0.4,0.5,0.6,0.7,0.8,0.9,1,1.1,1.2,1.3,1.4,1.5,1.6,1.7,1.8,1.9,2,2.1,2.2,2.3,2.4,2.5,2.6,2.7,2.8,2.9,3,3.1,3.2,3.3,3.4,3.5,3.6,3.7,3.8,3.9,4,4.1,4.2,4.3,4.4,4.5,4.6,4.7,4.8,4.9,5],"labelExpr":"abs(datum.value * 2 - round(datum.value * 2)) < 0.01 && round(datum.value * 2) != 9 ? replace(format(datum.value, '.2f'), '.', ',') : ''","tickSize":{"condition":{"test":"abs(datum.value * 2 - round(datum.value * 2)) < 0.01","value":7},"value":4},"domain":true,"labelPadding":11,"labelFlush":true,"labelFlushOffset":-3,"title":null}},
  "color":{"datum":"NH₄-N","type":"nominal","scale":{"domain":["NO₃-N","NH₄-N","NH₄-N-Sollwert","O₂","Gebläse-Frequenz","Beschickung Biologie"],"range":["#ff2020","#c83cc8","#7030a0","#1a1aff","#111111","#22c8c8"]}},
  "strokeDash":{"datum":"mg/l","type":"nominal","scale":{"range":[[1,0]]},
   "legend":{"orient":"none","legendX":-236,"legendY":40,"title":null,"symbolSize":0,"symbolOpacity":0,"labelOffset":-21,"padding":8,"strokeColor":"#111111","fillColor":"#ffffff","labelFontSize":18,"labelColor":"#222222","labelExpr":"'\u2009' + datum.label + '\u2009'","encode":{"legend":{"update":{"strokeWidth":{"value":2}}}}}},
  "opacity":{"datum":"NH₄-N","type":"ordinal","scale":{"range":[1,1]},
   "legend":{"orient":"none","legendX":-231,"legendY":576,"title":null,"symbolType":"stroke","symbolSize":2809,"labelExpr":"''","labelOffset":0,"padding":0,"encode":{"symbols":{"update":{"stroke":{"value":"#c83cc8"},"strokeWidth":{"value":2},"opacity":{"value":1}}}}}}
 }
},
{
 "data":{"name":"no3"},
 "mark":{"type":"line","strokeWidth":1.3,"clip":true},
 "encoding":{
  "x":{"field":"h","type":"quantitative","scale":{"domain":[-2.05,69.6],"nice":false,"zero":false},"axis":null},
  "y":{"field":"y","type":"quantitative","scale":{"domain":[0,5],"nice":false},
   "axis":{"orient":"left","offset":0,"values":[0],"tickSize":326,"tickColor":"#a8a89c","tickWidth":2,"labels":false,"domain":false,"grid":false,"title":null}},
  "color":{"datum":"NO₃-N","type":"nominal","scale":{"domain":["NO₃-N","NH₄-N","NH₄-N-Sollwert","O₂","Gebläse-Frequenz","Beschickung Biologie"],"range":["#ff2020","#c83cc8","#7030a0","#1a1aff","#111111","#22c8c8"]}},
  "opacity":{"datum":"NO₃-N","type":"ordinal","scale":{"range":[1,1]},
   "legend":{"orient":"none","legendX":-231,"legendY":594,"title":null,"symbolType":"stroke","symbolSize":2809,"labelExpr":"''","labelOffset":0,"padding":0,"encode":{"symbols":{"update":{"stroke":{"value":"#ff4040"},"strokeWidth":{"value":2},"opacity":{"value":1}}}}}}
 }
},
{
 "data":{"name":"soll"},
 "mark":{"type":"line","strokeWidth":4,"clip":true},
 "encoding":{
  "x":{"field":"h","type":"quantitative","scale":{"domain":[-2.05,69.6],"nice":false,"zero":false},
   "axis":{"values":[-1.95],"tickSize":83,"tickColor":"#555555","tickWidth":1.5,"labels":false,"domain":false,"grid":false,"title":null}},
  "y":{"field":"y","type":"quantitative","scale":{"domain":[0,5],"nice":false},"axis":null},
  "color":{"datum":"NH₄-N-Sollwert","type":"nominal","scale":{"domain":["NO₃-N","NH₄-N","NH₄-N-Sollwert","O₂","Gebläse-Frequenz","Beschickung Biologie"],"range":["#ff2020","#c83cc8","#7030a0","#1a1aff","#111111","#22c8c8"]}}
 }
}
]
}
